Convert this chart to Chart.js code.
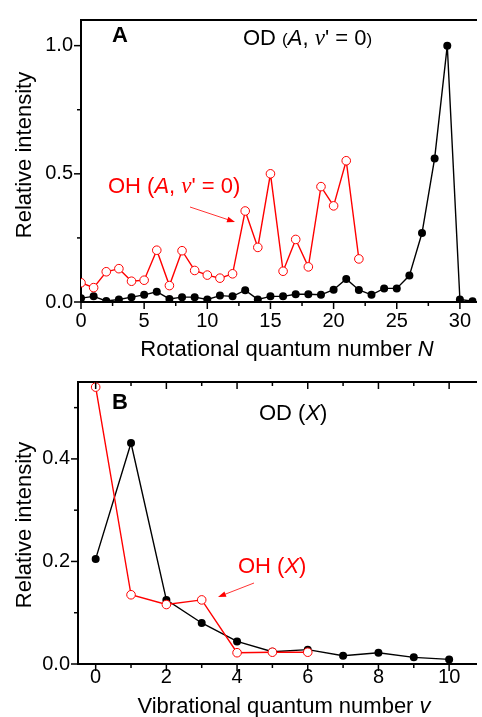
<!DOCTYPE html>
<html>
<head>
<meta charset="utf-8">
<script src="https://cdn.jsdelivr.net/npm/chart.js@4.4.1/dist/chart.umd.min.js"></script>
<style>
  html, body { margin: 0; padding: 0; background: #fff; overflow: hidden; }
  #wrapA { position: absolute; left: 0; top: 0; width: 482px; height: 362px; }
  #wrapB { position: absolute; left: 0; top: 362px; width: 482px; height: 355px; }
</style>
</head>
<body>
<div id="wrapA"><canvas id="chartA"></canvas></div>
<div id="wrapB"><canvas id="chartB"></canvas></div>
<script>
// panel A - rotational distributions, A state v'=0
var rotN_OD = [0, 1, 2, 3, 4, 5, 6, 7, 8, 9, 10, 11, 12, 13, 14, 15, 16, 17, 18, 19, 20, 21, 22, 23, 24, 25, 26, 27, 28, 29, 30, 31];
var rotOD = [0.015, 0.022, 0.004, 0.010, 0.019, 0.028, 0.040, 0.012, 0.019, 0.019, 0.010, 0.025, 0.022, 0.046, 0.010, 0.022,
             0.022, 0.030, 0.030, 0.028, 0.048, 0.090, 0.047, 0.028, 0.053, 0.053, 0.103, 0.269, 0.560, 1.000, 0.010, 0.003];
var rotN_OH = [0, 1, 2, 3, 4, 5, 6, 7, 8, 9, 10, 11, 12, 13, 14, 15, 16, 17, 18, 19, 20, 21, 22];
var rotOH = [0.075, 0.056, 0.118, 0.130, 0.081, 0.085, 0.202, 0.064, 0.200, 0.123, 0.105, 0.093, 0.110, 0.355, 0.213, 0.500,
             0.120, 0.244, 0.137, 0.450, 0.375, 0.551, 0.168];

// panel B - vibrational distributions, X state
var vibV_OD = [0, 1, 2, 3, 4, 5, 6, 7, 8, 9, 10];
var vibOD = [0.205, 0.431, 0.125, 0.080, 0.044, 0.024, 0.028, 0.016, 0.022, 0.013, 0.009];
var vibV_OH = [0, 1, 2, 3, 4, 5, 6];
var vibOH = [0.540, 0.135, 0.116, 0.125, 0.022, 0.023, 0.023];

// tick labels
var xTicksA = [0, 5, 10, 15, 20, 25, 30];
var yTicksA = [0, 0.5, 1.0];
var yLabelsA = ['0.0', '0.5', '1.0'];
var xTicksB = [0, 2, 4, 6, 8, 10];
var yTicksB = [0, 0.2, 0.4];
var yLabelsB = ['0.0', '0.2', '0.4'];

var SANS = "'Liberation Sans', Arial, sans-serif";
var SERIF = "'Liberation Serif', 'Times New Roman', serif";
var RED = '#ff0000';

function fnt(style, size, fam) { return style + ' ' + size + 'px ' + (fam || SANS); }

function pts(xs, ys) {
    return xs.map(function (x, i) { return { x: x, y: ys[i] }; });
}

function labelFor(vals, labels) {
    return function (value) {
        for (var i = 0; i < vals.length; i++) {
            if (Math.abs(vals[i] - value) < 1e-6) return labels ? labels[i] : String(vals[i]);
        }
        return '';
    };
}

function isStep(v, step) {
    var r = v / step;
    return Math.abs(r - Math.round(r)) < 1e-6;
}

function drawRich(ctx, x, y, parts, color, center) {
    ctx.save();
    ctx.fillStyle = color;
    ctx.textBaseline = 'alphabetic';
    ctx.textAlign = 'left';
    if (center) {
        var w = 0;
        parts.forEach(function (p) { ctx.font = p[1]; w += ctx.measureText(p[0]).width; });
        x -= w / 2;
    }
    parts.forEach(function (p) {
        ctx.font = p[1];
        ctx.fillText(p[0], x, y);
        x += ctx.measureText(p[0]).width;
    });
    ctx.restore();
}

function drawArrow(ctx, x1, y1, x2, y2, color) {
    var ang = Math.atan2(y2 - y1, x2 - x1);
    ctx.save();
    ctx.strokeStyle = color;
    ctx.fillStyle = color;
    ctx.lineWidth = 0.8;
    ctx.beginPath();
    ctx.moveTo(x1, y1);
    ctx.lineTo(x2 - 5 * Math.cos(ang), y2 - 5 * Math.sin(ang));
    ctx.stroke();
    ctx.translate(x2, y2);
    ctx.rotate(ang);
    ctx.beginPath();
    ctx.moveTo(0, 0);
    ctx.lineTo(-8, -2.8);
    ctx.lineTo(-8, 2.8);
    ctx.closePath();
    ctx.fill();
    ctx.restore();
}

function drawTicks(ctx, scale, area, o, side) {
    scale.ticks.forEach(function (t) {
        if (!isStep(t.value, o.minor)) return;
        var len = isStep(t.value, o.major) ? 7 : 4;
        var p = scale.getPixelForValue(t.value);
        ctx.beginPath();
        if (side === 'bottom') { ctx.moveTo(p, area.bottom); ctx.lineTo(p, area.bottom + len); }
        else if (side === 'top') { ctx.moveTo(p, area.top); ctx.lineTo(p, area.top + len); }
        else { ctx.moveTo(area.left, p); ctx.lineTo(area.left - len, p); }
        ctx.stroke();
    });
}

// minor/major ticks, titles and labels
var decor = {
    id: 'decor',
    afterDraw: function (chart, args, o) {
        var ctx = chart.ctx, area = chart.chartArea;
        ctx.save();
        ctx.strokeStyle = '#000';
        ctx.lineWidth = 1.5;
        drawTicks(ctx, chart.scales.x, area, o.x, 'bottom');
        drawTicks(ctx, chart.scales.y, area, o.y, 'left');
        if (o.topTicks) drawTicks(ctx, chart.scales.x, area, o.x, 'top');
        ctx.restore();

        // y title, rotated
        ctx.save();
        ctx.translate(o.yTitle.x, o.yTitle.y);
        ctx.rotate(-Math.PI / 2);
        ctx.font = fnt('normal', 22);
        ctx.fillStyle = '#000';
        ctx.textAlign = 'center';
        ctx.textBaseline = 'middle';
        ctx.fillText(o.yTitle.text, 0, 0);
        ctx.restore();

        o.texts.forEach(function (t) { drawRich(ctx, t.x, t.y, t.parts, t.color || '#000', t.center); });
        o.arrows.forEach(function (a) { drawArrow(ctx, a[0], a[1], a[2], a[3], RED); });
    }
};

Chart.defaults.font.family = SANS;
Chart.defaults.color = '#000';

function makeChart(id, cfg) {
    return new Chart(document.getElementById(id), {
        type: 'scatter',
        data: {
            datasets: [{
                data: cfg.oh,
                showLine: true,
                borderColor: RED,
                borderWidth: 1.4,
                pointRadius: 4.3,
                pointBorderWidth: 1,
                pointBackgroundColor: '#fff',
                pointBorderColor: RED
            }, {
                data: cfg.od,
                showLine: true,
                borderColor: '#000',
                borderWidth: 1.4,
                pointRadius: 4,
                pointBorderWidth: 0,
                pointBackgroundColor: '#000',
                pointBorderColor: '#000'
            }]
        },
        options: {
            responsive: true,
            maintainAspectRatio: false,
            animation: false,
            layout: { padding: { top: cfg.top, left: 0, right: 0, bottom: 0 } },
            scales: {
                x: {
                    type: 'linear',
                    min: cfg.xmin, max: cfg.xmax,
                    grid: { display: false, drawTicks: false },
                    border: { display: true, color: '#000', width: 2 },
                    ticks: {
                        stepSize: cfg.xminor, autoSkip: false, maxRotation: 0, maxTicksLimit: 200,
                        includeBounds: false,
                        padding: cfg.xpad, font: { size: 20 }, color: '#000',
                        callback: labelFor(cfg.xticks)
                    },
                    afterFit: function (s) { s.height = cfg.xh; }
                },
                x2: {
                    type: 'linear', position: 'top',
                    min: cfg.xmin, max: cfg.xmax,
                    grid: { display: false, drawTicks: false },
                    border: { display: true, color: '#000', width: 2 },
                    ticks: { display: false },
                    afterFit: function (s) { s.height = 0; }
                },
                y: {
                    min: 0, max: cfg.ymax,
                    grid: { display: false, drawTicks: false },
                    border: { display: true, color: '#000', width: 2 },
                    ticks: {
                        stepSize: cfg.yminor, autoSkip: false, maxTicksLimit: 200,
                        includeBounds: false,
                        padding: 8, font: { size: 20 }, color: '#000',
                        callback: labelFor(cfg.yticks, cfg.ylabels)
                    },
                    afterFit: function (s) { s.width = cfg.yw; }
                }
            },
            plugins: {
                legend: { display: false },
                tooltip: { enabled: false },
                decor: cfg.decor
            }
        },
        plugins: [decor]
    });
}

makeChart('chartA', {
    oh: pts(rotN_OH, rotOH), od: pts(rotN_OD, rotOD),
    top: 13, xh: 60, yw: 81, xpad: 7,
    xmin: 0, xmax: 31.33, xminor: 2.5, xticks: xTicksA,
    ymax: 1.1, yminor: 0.25, yticks: yTicksA, ylabels: yLabelsA,
    decor: {
        x: { minor: 2.5, major: 5 }, y: { minor: 0.25, major: 0.5 }, topTicks: false,
        yTitle: { x: 25, y: 155, text: 'Relative intensity' },
        texts: [
            { x: 287, y: 356, center: true, parts: [['Rotational quantum number ', fnt('normal', 22)], ['N', fnt('italic', 22)]] },
            { x: 112, y: 42, parts: [['A', fnt('bold', 22)]] },
            { x: 243, y: 45, parts: [['OD ', fnt('normal', 22)], ['(', fnt('normal', 17)], ['A', fnt('italic', 22)],
                [', ', fnt('normal', 22)], ['\u03bd', fnt('italic', 23, SERIF)], ["' = 0", fnt('normal', 22)], [')', fnt('normal', 17)]] },
            { x: 108, y: 193, color: RED, parts: [['OH (', fnt('normal', 22)], ['A', fnt('italic', 22)],
                [', ', fnt('normal', 22)], ['\u03bd', fnt('italic', 23, SERIF)], ["' = 0)", fnt('normal', 22)]] }
        ],
        arrows: [[190, 207, 235, 222]]
    }
});

makeChart('chartB', {
    oh: pts(vibV_OH, vibOH), od: pts(vibV_OD, vibOD),
    top: 12, xh: 53, yw: 78, xpad: 1,
    xmin: -0.5, xmax: 10.78, xminor: 1, xticks: xTicksB,
    ymax: 0.55, yminor: 0.1, yticks: yTicksB, ylabels: yLabelsB,
    decor: {
        x: { minor: 1, major: 2 }, y: { minor: 0.1, major: 0.2 }, topTicks: true,
        yTitle: { x: 25, y: 163, text: 'Relative intensity' },
        texts: [
            { x: 284, y: 351, center: true, parts: [['Vibrational quantum number ', fnt('normal', 22)], ['v', fnt('italic', 22)]] },
            { x: 112, y: 47, parts: [['B', fnt('bold', 22)]] },
            { x: 259, y: 58, parts: [['OD (', fnt('normal', 22)], ['X', fnt('italic', 22)], [')', fnt('normal', 22)]] },
            { x: 238, y: 211, color: RED, parts: [['OH (', fnt('normal', 22)], ['X', fnt('italic', 22)], [')', fnt('normal', 22)]] }
        ],
        arrows: [[254, 221, 218, 235]]
    }
});
</script>
</body>
</html>
